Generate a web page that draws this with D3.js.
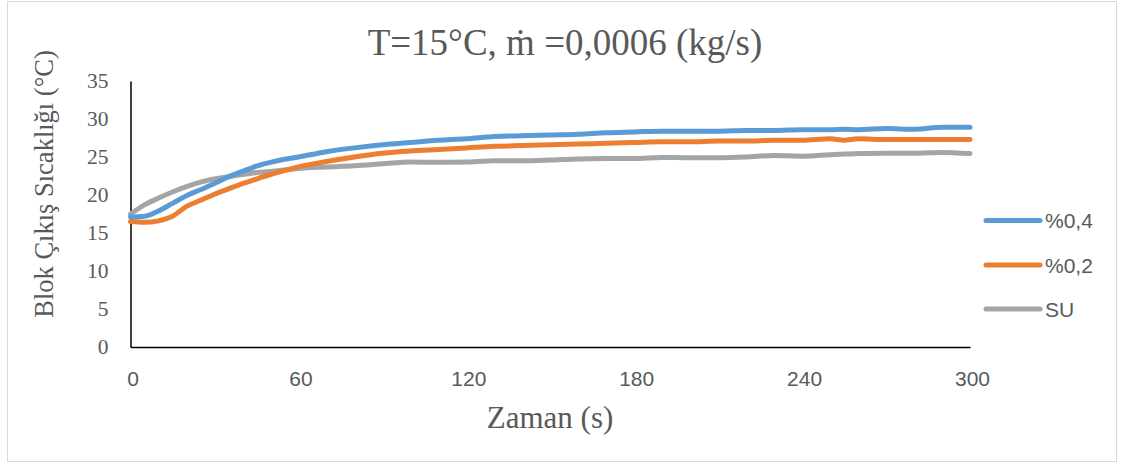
<!DOCTYPE html>
<html>
<head>
<meta charset="utf-8">
<script src="https://cdn.jsdelivr.net/npm/d3@7"></script>
<style>
  html, body { margin: 0; padding: 0; background: #fff; }
  svg { display: block; }
</style>
</head>
<body>
<svg id="chart" width="1123" height="464"></svg>
<script>
// Time samples (s)
const time = [0, 5, 10, 15, 20, 25, 30, 35, 40, 45, 50, 55, 60, 70, 80, 90, 100, 110, 120,
  130, 140, 150, 160, 170, 180, 190, 200, 210, 220, 230, 240, 250, 255, 260, 270, 280, 290, 300];

// Block outlet temperature (°C) for each fluid
const seriesNames = ["%0,4", "%0,2", "SU"];
const nano04 = [17.1, 17.2, 17.9, 18.9, 19.9, 20.7, 21.5, 22.4, 23.1, 23.8, 24.3, 24.7, 25.0, 25.7, 26.2, 26.6, 26.9, 27.2, 27.4,
  27.7, 27.8, 27.9, 28.0, 28.2, 28.3, 28.4, 28.4, 28.4, 28.5, 28.5, 28.6, 28.6, 28.65, 28.6, 28.75, 28.65, 28.9, 28.9];
const nano02 = [16.5, 16.4, 16.6, 17.2, 18.5, 19.3, 20.1, 20.8, 21.5, 22.1, 22.7, 23.2, 23.7, 24.4, 25.0, 25.5, 25.8, 26.0, 26.2,
  26.4, 26.5, 26.6, 26.7, 26.8, 26.9, 27.0, 27.0, 27.1, 27.1, 27.2, 27.2, 27.4, 27.2, 27.4, 27.3, 27.3, 27.3, 27.3];
const water = [17.5, 18.7, 19.6, 20.4, 21.1, 21.7, 22.1, 22.4, 22.7, 22.95, 23.1, 23.3, 23.5, 23.7, 23.85, 24.1, 24.35, 24.3, 24.35,
  24.5, 24.5, 24.6, 24.75, 24.8, 24.8, 24.95, 24.9, 24.9, 25.0, 25.2, 25.1, 25.3, 25.4, 25.45, 25.5, 25.5, 25.6, 25.45];

const xTicks = [0, 60, 120, 180, 240, 300];
const yTicks = [0, 5, 10, 15, 20, 25, 30, 35];
const colors = ["#5B9BD5", "#ED7D31", "#A5A5A5"];

const titleText = "T=15°C, ṁ =0,0006 (kg/s)";
const xTitle = "Zaman (s)";
const yTitle = "Blok Çıkış Sıcaklığı (°C)";

const svg = d3.select("#chart");
const textColor = "#595959";
const serif = "'Liberation Serif', 'Times New Roman', serif";
const sans = "'Liberation Sans', Arial, sans-serif";

// chart frame
svg.append("rect")
  .attr("x", 7.5).attr("y", 1.5)
  .attr("width", 1109).attr("height", 460)
  .attr("fill", "#fff").attr("stroke", "#d9d9d9").attr("stroke-width", 1);

const plot = { left: 130.5, right: 970, top: 81, bottom: 347 };
const x = d3.scaleLinear().domain([0, 300]).range([plot.left, plot.right]);
const y = d3.scaleLinear().domain([0, 35]).range([plot.bottom, plot.top]);

// title
svg.append("text")
  .attr("x", 565).attr("y", 55)
  .attr("text-anchor", "middle")
  .attr("font-family", serif).attr("font-size", 37)
  .attr("fill", textColor)
  .text(titleText);

// y axis
const gy = svg.append("g")
  .attr("transform", `translate(${plot.left},0)`)
  .call(d3.axisLeft(y).tickValues(yTicks).tickSize(0).tickSizeOuter(0).tickPadding(22));
gy.select(".domain").attr("stroke", "#000").attr("stroke-width", 1.5);
gy.selectAll("text")
  .attr("font-family", serif).attr("font-size", 21.5)
  .attr("fill", textColor);

// x axis
const gx = svg.append("g")
  .attr("transform", `translate(0,${plot.bottom})`)
  .call(d3.axisBottom(x).tickValues(xTicks).tickSize(0).tickSizeOuter(0));
gx.select(".domain").attr("stroke", "#000").attr("stroke-width", 1.5);
gx.selectAll("text")
  .attr("y", 39).attr("dy", null)
  .attr("x", 2)
  .attr("font-family", sans).attr("font-size", 21)
  .attr("fill", textColor);

// axis titles
svg.append("text")
  .attr("x", 550).attr("y", 428)
  .attr("text-anchor", "middle")
  .attr("font-family", serif).attr("font-size", 31)
  .attr("fill", textColor)
  .text(xTitle);

svg.append("text")
  .attr("transform", "translate(53,184) rotate(-90)")
  .attr("text-anchor", "middle")
  .attr("font-family", serif).attr("font-size", 26.5)
  .attr("fill", textColor)
  .text(yTitle);

// series lines
const seriesValues = [nano04, nano02, water];
const line = d3.line()
  .x((d, i) => x(time[i]))
  .y(d => y(d))
  .curve(d3.curveMonotoneX);

// draw gray first, blue last so layering follows the series order
[2, 1, 0].forEach(k => {
  svg.append("path")
    .datum(seriesValues[k])
    .attr("d", line)
    .attr("fill", "none")
    .attr("stroke", colors[k])
    .attr("stroke-width", 5)
    .attr("stroke-linejoin", "round")
    .attr("stroke-linecap", "round");
});

// legend
const legendY = [220.5, 265, 309];
seriesNames.forEach((name, k) => {
  svg.append("line")
    .attr("x1", 986).attr("x2", 1040)
    .attr("y1", legendY[k]).attr("y2", legendY[k])
    .attr("stroke", colors[k]).attr("stroke-width", 5)
    .attr("stroke-linecap", "round");
  svg.append("text")
    .attr("x", 1045).attr("y", legendY[k])
    .attr("dy", "0.36em")
    .attr("font-family", sans).attr("font-size", 21)
    .attr("fill", textColor)
    .text(name);
});
</script>
</body>
</html>
